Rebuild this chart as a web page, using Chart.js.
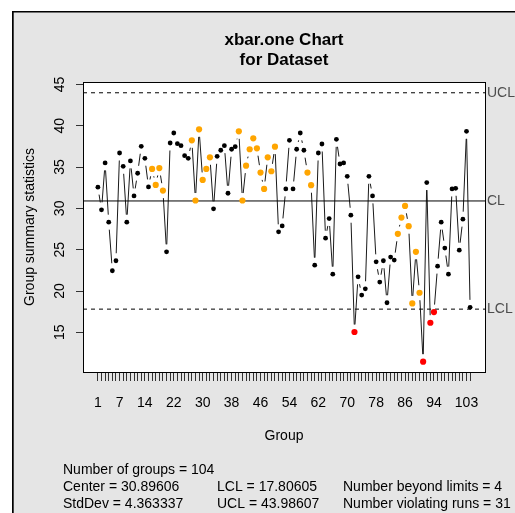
<!DOCTYPE html>
<html>
<head>
<meta charset="utf-8">
<script src="https://cdn.jsdelivr.net/npm/chart.js@4.4.1/dist/chart.umd.min.js"></script>
<style>
html,body{margin:0;padding:0;background:#fff;overflow:hidden}
#wrap{position:relative;width:515px;height:513px}
canvas{display:block}
</style>
</head>
<body>
<div id="wrap"><canvas id="c" width="515" height="513"></canvas></div>
<script>
// ---------- data ----------
const groups = [1,2,3,4,5,6,7,8,9,10,11,12,13,14,15,16,17,18,19,20,
  21,22,23,24,25,26,27,28,29,30,31,32,33,34,35,36,37,38,39,40,
  41,42,43,44,45,46,47,48,49,50,51,52,53,54,55,56,57,58,59,60,
  61,62,63,64,65,66,67,68,69,70,71,72,73,74,75,76,77,78,79,80,
  81,82,83,84,85,86,87,88,89,90,91,92,93,94,95,96,97,98,99,100,
  101,102,103,104];
const stats = [32.56,29.82,35.5,28.33,22.45,23.66,36.7,35.09,28.33,35.74,
  31.51,34.25,37.51,36.06,32.6,34.77,32.84,34.87,32.15,24.74,
  37.91,39.12,37.83,37.59,36.38,36.06,38.23,30.95,39.56,33.44,
  34.77,36.18,29.94,36.3,37.03,37.59,31.83,37.15,37.47,39.32,
  30.95,35.17,37.15,38.48,37.27,34.33,32.35,36.18,34.49,37.47,
  27.16,27.88,32.35,38.23,32.35,37.15,39.12,37.03,34.33,32.8,
  23.13,36.7,37.79,26.39,28.77,22.04,38.35,35.37,35.5,33.88,
  29.17,15.04,21.72,19.51,20.27,33.88,31.51,23.53,21.08,23.66,
  18.58,24.1,23.74,26.92,28.89,30.3,27.84,18.5,24.74,19.79,
  11.45,33.12,16.16,17.45,23.01,28.33,25.19,22.04,32.35,32.43,
  24.94,28.69,39.32,18.02];
const violatingRuns = [16,17,18,19,27,28,29,30,31,32,40,41,42,43,44,45,46,47,48,49,50,59,60,84,85,86,87,88,89,90];
const centerValue = 30.89606;
const lclValue = 17.80605;
const uclValue = 43.98607;
const stdDevText = "4.363337";
const nGroups = 104;
const nBeyond = 4;
const nViolating = 31;
const xTickLabels = [1,7,14,22,30,38,46,54,62,70,78,86,94,103];
const yTicks = [15,20,25,30,35,40,45];
const xMin = -3.12, xMax = 108.12;
const yMin = 10.2, yMax = 45.29;

// ---------- helpers ----------
const FONT = "'Liberation Sans', Arial, Helvetica, sans-serif";
const pts = groups.map((g, i) => ({x: g, y: stats[i]}));
function status(i) {
  const v = stats[i];
  if (v > uclValue || v < lclValue) return 'out';
  if (violatingRuns.includes(groups[i])) return 'run';
  return 'ok';
}
const colorOf = {ok: '#000000', run: '#FFA500', out: '#FF0000'};
const radiusOf = {ok: 2.4, run: 3.1, out: 3.1};
const GAP = 7.5;
function gapDash(ctx) {
  const dx = ctx.p1.x - ctx.p0.x, dy = ctx.p1.y - ctx.p0.y;
  const L = Math.hypot(dx, dy);
  if (L <= 2 * GAP) return [0, 100000];
  return [0, GAP, L - 2 * GAP, 100000];
}
function hLine(v) { return [{x: xMin, y: v}, {x: xMax, y: v}]; }

const decor = {
  id: 'decor',
  beforeDraw(chart) {
    const {ctx, chartArea: a} = chart;
    ctx.save();
    ctx.fillStyle = '#ffffff';
    ctx.fillRect(0, 0, 515, 513);
    ctx.fillStyle = '#e5e5e5';
    ctx.fillRect(13, 12, 502, 501);
    ctx.fillStyle = '#000000';
    ctx.fillRect(12, 11, 503, 1.5);
    ctx.fillRect(12, 11, 1.7, 502);
    ctx.fillStyle = '#ffffff';
    ctx.fillRect(a.left, a.top, a.right - a.left, a.bottom - a.top);
    ctx.restore();
  },
  afterDraw(chart) {
    const {ctx, chartArea: a, scales} = chart;
    ctx.save();
    ctx.strokeStyle = '#000';
    ctx.lineWidth = 1;
    ctx.strokeRect(a.left + 0.5, a.top + 0.5, a.right - a.left, a.bottom - a.top);
    const cx = (a.left + a.right) / 2;
    // title
    ctx.fillStyle = '#000';
    ctx.textAlign = 'center';
    ctx.textBaseline = 'middle';
    ctx.font = 'bold 17px ' + FONT;
    ctx.fillText('xbar.one Chart', cx, 40);
    ctx.fillText('for Dataset', cx, 60);
    // axis titles
    ctx.font = '14px ' + FONT;
    ctx.fillText('Group', cx, 436);
    ctx.save();
    ctx.translate(30, (a.top + a.bottom) / 2);
    ctx.rotate(-Math.PI / 2);
    ctx.fillText('Group summary statistics', 0, 0);
    ctx.restore();
    // limit labels
    ctx.fillStyle = '#4d4d4d';
    ctx.textAlign = 'left';
    const y = scales.y;
    ctx.fillText('UCL', a.right + 2, y.getPixelForValue(uclValue));
    ctx.fillText('CL', a.right + 2, y.getPixelForValue(centerValue));
    ctx.fillText('LCL', a.right + 2, y.getPixelForValue(lclValue));
    // stats
    ctx.fillStyle = '#000';
    ctx.fillText('Number of groups = ' + nGroups, 63, 470);
    ctx.fillText('Center = ' + centerValue.toFixed(5), 63, 487);
    ctx.fillText('StdDev = ' + stdDevText, 63, 504);
    ctx.fillText('LCL = ' + lclValue.toFixed(5), 217, 487);
    ctx.fillText('UCL = ' + uclValue.toFixed(5), 217, 504);
    ctx.fillText('Number beyond limits = ' + nBeyond, 343, 487);
    ctx.fillText('Number violating runs = ' + nViolating, 343, 504);
    ctx.restore();
  }
};

Chart.defaults.font.family = FONT;
Chart.defaults.font.size = 14;
Chart.defaults.color = '#000';

new Chart(document.getElementById('c'), {
  type: 'line',
  data: {
    datasets: [
      {label: 'series', data: pts, showLine: true, pointRadius: 0, borderColor: '#1a1a1a', borderWidth: 1, order: 3,
        segment: {borderDash: gapDash}},
      {label: 'UCL', data: hLine(uclValue), pointRadius: 0, borderColor: '#000', borderWidth: 1, borderDash: [4, 4], order: 2},
      {label: 'CL', data: hLine(centerValue), pointRadius: 0, borderColor: '#000', borderWidth: 1, order: 2},
      {label: 'LCL', data: hLine(lclValue), pointRadius: 0, borderColor: '#000', borderWidth: 1, borderDash: [4, 4], order: 2},
      {label: 'points', data: pts, showLine: false, order: 1,
        pointRadius: c => radiusOf[status(c.dataIndex)],
        pointBackgroundColor: c => colorOf[status(c.dataIndex)],
        pointBorderWidth: 0, pointBorderColor: 'rgba(0,0,0,0)'}
    ]
  },
  options: {
    responsive: false,
    devicePixelRatio: 1,
    animation: false,
    events: [],
    layout: {padding: {left: 0, top: 82, right: 30, bottom: 101}},
    plugins: {legend: {display: false}, title: {display: false}, tooltip: {enabled: false}},
    scales: {
      x: {
        type: 'linear', min: xMin, max: xMax,
        afterBuildTicks: s => { s.ticks = groups.map(v => ({value: v})); },
        afterFit: s => { s.height = 40; },
        grid: {display: true, drawOnChartArea: false, drawTicks: true, tickLength: 9, color: '#333', lineWidth: 1},
        border: {display: true, width: 2, color: 'rgba(0,0,0,0)'},
        ticks: {autoSkip: false, maxRotation: 0, minRotation: 0, padding: 14, color: '#000', font: {size: 14},
          callback: v => xTickLabels.includes(v) ? String(v) : ''}
      },
      y: {
        type: 'linear', min: yMin, max: yMax,
        afterBuildTicks: s => { s.ticks = yTicks.map(v => ({value: v})); },
        afterFit: s => { s.width = 83; },
        grid: {display: true, drawOnChartArea: false, drawTicks: true, tickLength: 7, color: '#333', lineWidth: 1},
        border: {display: false},
        ticks: {minRotation: 90, maxRotation: 90, crossAlign: 'center', padding: 8, color: '#000', font: {size: 14},
          callback: v => String(v)}
      }
    }
  },
  plugins: [decor]
});
</script>
</body>
</html>
